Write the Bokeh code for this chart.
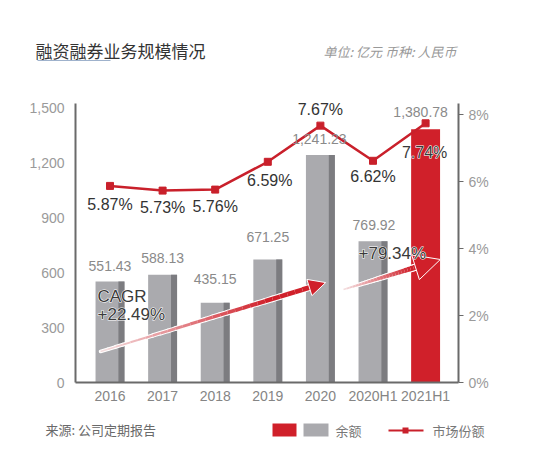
from bokeh.plotting import figure
from bokeh.models import (Range1d, LinearAxis, FixedTicker, NumeralTickFormatter,
                          PrintfTickFormatter, ColumnDataSource, LabelSet, Label,
                          BoxAnnotation, Arrow, NormalHead)
from bokeh.core.properties import value
from bokeh.embed import file_html
from bokeh.resources import INLINE

# ---------------- data ----------------
categories = ["2016", "2017", "2018", "2019", "2020", "2020H1", "2021H1"]
balance = [551.43, 588.13, 435.15, 671.25, 1241.23, 769.92, 1380.78]
balance_labels = ["551.43", "588.13", "435.15", "671.25", "1,241.23", "769.92", "1,380.78"]
share = [5.87, 5.73, 5.76, 6.59, 7.67, 6.62, 7.74]
share_labels = ["5.87%", "5.73%", "5.76%", "6.59%", "7.67%", "6.62%", "7.74%"]
left_ticks = [0, 300, 600, 900, 1200, 1500]
right_ticks = [0, 2, 4, 6, 8]
title_text = "融资融券业务规模情况"
unit_text = "单位: 亿元  币种: 人民币"
source_text = "来源: 公司定期报告"
legend_bar = "余额"
legend_line = "市场份额"
cagr_lines = ["CAGR", "+22.49%"]
growth_text = "+79.34%"
# arrows (start/end in category index, balance units)
cagr_arrow = [(-0.18, 169.0), (4.10, 545.0)]
growth_arrow = [(4.44, 507.0), (6.28, 671.0)]

# ---------------- styling / layout ----------------
RED = "#D0202A"
LINE_RED = "#C9202B"
LIGHT = "#AAAAAE"
DARK = "#7C7C80"
AXIS = "#6A6A6A"
TICKTXT = "#9A9A9A"
NUMFONT = "Liberation Sans"
CJK = "Noto Sans CJK SC"

W, H = 543, 444
# geometry of the plotting area in page pixels
X0PX, XSC = 109.5, 52.6      # centre of first category, px per category
Y0PX, YSC = 382.0, 0.18333   # y of zero, px per balance unit
PSC = 33.49                  # px per percent
FL, FR, FT = 75, 458, 103    # frame left/right/top edges in px

def DX(px):
    return (px - X0PX) / XSC

def DY(py):
    return (Y0PX - py) / YSC

def DP(py):
    return (Y0PX - py) / PSC

p = figure(width=W, height=H, output_backend="svg", toolbar_location=None,
           x_range=Range1d(DX(0), DX(W)), y_range=Range1d(DY(H), DY(0)),
           background_fill_color="white", border_fill_color="white")
p.outline_line_color = None
p.min_border_left = 0
p.min_border_right = 0
p.min_border_top = 0
p.min_border_bottom = 0
p.xgrid.visible = False
p.ygrid.visible = False
p.extra_y_ranges = {"pct": Range1d(DP(H), DP(0))}

idx = list(range(len(categories)))
n = len(categories)

# left axis
ya = p.yaxis[0]
ya.fixed_location = DX(FL)
ya.bounds = (0, DY(FT))
ya.ticker = FixedTicker(ticks=left_ticks)
ya.formatter = NumeralTickFormatter(format="0,0")
ya.major_tick_line_color = None
ya.major_tick_out = 0
ya.major_tick_in = 0
ya.minor_tick_line_color = None
ya.axis_line_color = AXIS
ya.axis_line_width = 2
ya.major_label_text_color = TICKTXT
ya.major_label_text_font = NUMFONT
ya.major_label_text_font_size = "14px"
ya.major_label_standoff = 11

# bottom axis
xa = p.xaxis[0]
xa.fixed_location = 0
xa.bounds = (DX(FL), DX(FR))
xa.ticker = FixedTicker(ticks=idx)
xa.major_label_overrides = {i: c for i, c in enumerate(categories)}
xa.major_tick_line_color = None
xa.major_tick_out = 0
xa.major_tick_in = 0
xa.minor_tick_line_color = None
xa.axis_line_color = AXIS
xa.axis_line_width = 2
xa.major_label_text_color = "#858585"
xa.major_label_text_font = NUMFONT
xa.major_label_text_font_size = "14px"
xa.major_label_standoff = 5

# right axis
ra = LinearAxis(y_range_name="pct", ticker=FixedTicker(ticks=right_ticks),
                formatter=PrintfTickFormatter(format="%d%%"))
ra.fixed_location = DX(FR)
ra.bounds = (0, DP(FT))
ra.major_tick_out = 5
ra.major_tick_in = 0
ra.major_tick_line_color = AXIS
ra.major_tick_line_width = 1
ra.minor_tick_line_color = None
ra.axis_line_color = AXIS
ra.axis_line_width = 2
ra.major_label_text_color = TICKTXT
ra.major_label_text_font = NUMFONT
ra.major_label_text_font_size = "14px"
ra.major_label_standoff = 5
p.add_layout(ra, "right")

# bars
BW = 0.55
STRIP = 0.115
gray_x = idx[:-1]
gray_top = balance[:-1]
p.vbar(x=gray_x, top=gray_top, width=BW, fill_color=LIGHT, line_color=None)
p.quad(left=[x + BW / 2 - STRIP for x in gray_x], right=[x + BW / 2 for x in gray_x],
       top=gray_top, bottom=0, fill_color=DARK, line_color=None)
p.vbar(x=[idx[-1]], top=[balance[-1]], width=BW, fill_color=RED, line_color=None)

# gradient arrows (body)
def lerp_color(c0, c1, t):
    a = [int(c0[i:i + 2], 16) for i in (1, 3, 5)]
    b = [int(c1[i:i + 2], 16) for i in (1, 3, 5)]
    return "#%02x%02x%02x" % tuple(int(round(a[k] + (b[k] - a[k]) * t)) for k in range(3))

def grad_arrow(pts, w0, w1, head, tend=0.93, c0="#F4E0E1"):
    (x0, y0), (x1, y1) = pts
    N = 28
    xs0, ys0, xs1, ys1, cols, ws = [], [], [], [], [], []
    for i in range(N):
        t0 = tend * i / N
        t1 = tend * (i + 1) / N
        xs0.append(x0 + (x1 - x0) * t0)
        ys0.append(y0 + (y1 - y0) * t0)
        xs1.append(x0 + (x1 - x0) * t1)
        ys1.append(y0 + (y1 - y0) * t1)
        tt = (i + 0.5) / N
        cols.append(lerp_color(c0, RED, min(1.0, tt * 1.25)))
        ws.append(w0 + (w1 - w0) * tt)
    src = ColumnDataSource(dict(x0=xs0, y0=ys0, x1=xs1, y1=ys1, c=cols, w=ws,
                                ww=[w + 2 for w in ws]))
    p.segment(x0="x0", y0="y0", x1="x1", y1="y1", source=src, line_color="white",
              line_width="ww", line_cap="round")
    p.segment(x0="x0", y0="y0", x1="x1", y1="y1", source=src, line_color="c",
              line_width="w", line_cap="butt")
    p.add_layout(Arrow(end=NormalHead(size=head, fill_color=RED, line_color="white",
                                      line_width=1),
                       x_start=x0 + (x1 - x0) * 0.8, y_start=y0 + (y1 - y0) * 0.8,
                       x_end=x1, y_end=y1, line_alpha=0))

grad_arrow(cagr_arrow, 1.5, 5.0, 17)
grad_arrow(growth_arrow, 1.5, 6.0, 26, tend=0.88)

# share line
p.line(x=idx, y=share, y_range_name="pct", line_color=LINE_RED, line_width=2.5)
p.scatter(x=idx, y=share, y_range_name="pct", marker="square", size=7,
          fill_color=LINE_RED, line_color=LINE_RED)

# value labels
val_dy = [15, 17, 24, 22, 16, 16, 17]
val_dx = [0, 0, 0, 0, -1, 1, -5]
vsrc = ColumnDataSource(dict(x=idx, y=balance, t=balance_labels, dx=val_dx, dy=val_dy))
p.add_layout(LabelSet(x="x", y="y", text="t", source=vsrc, x_offset="dx", y_offset="dy",
                      text_align="center", text_baseline="middle",
                      text_font=value(NUMFONT), text_font_size="14px",
                      text_color="#8A8A8A"))

# share labels
sh_dy = [-19, -17, -17, -19, 16, -16, -29]
sh_dx = [0, 0, 0, 2, 0, 0, -1]
plain = [i for i in idx if i != n - 1]
ssrc = ColumnDataSource(dict(x=[idx[i] for i in plain], y=[share[i] for i in plain],
                             t=[share_labels[i] for i in plain],
                             dx=[sh_dx[i] for i in plain], dy=[sh_dy[i] for i in plain]))
p.add_layout(LabelSet(x="x", y="y", text="t", source=ssrc, x_offset="dx", y_offset="dy",
                      y_range_name="pct", text_align="center", text_baseline="middle",
                      text_font=value(NUMFONT), text_font_size="16px",
                      text_color="#333333"))

def halo_label(**kw):
    # white halo underneath, dark text on top
    p.add_layout(Label(text_color="white", text_outline_color="white", **kw))
    p.add_layout(Label(text_color="#3A3A3A", **kw))

halo_label(x=idx[-1], y=share[-1], y_range_name="pct", text=share_labels[-1],
           x_offset=sh_dx[-1], y_offset=sh_dy[-1], text_align="center",
           text_baseline="middle", text_font=NUMFONT, text_font_size="16px")

# CAGR / growth texts
halo_label(x=DX(97), y=DY(296), text=cagr_lines[0], text_align="left",
           text_baseline="middle", text_font=NUMFONT, text_font_size="17px")
halo_label(x=DX(97), y=DY(314), text=cagr_lines[1], text_align="left",
           text_baseline="middle", text_font=NUMFONT, text_font_size="17px")
halo_label(x=DX(358), y=DY(253), text=growth_text, text_align="left",
           text_baseline="middle", text_font=NUMFONT, text_font_size="17px")

# title, units, source
p.add_layout(Label(x=DX(35), y=DY(50), text=title_text, text_align="left",
                   text_baseline="middle", text_font=CJK, text_font_size="17px",
                   text_color="#333333"))
p.add_layout(Arrow(end=None, x_start=DX(37), y_start=DY(60), x_end=DX(110), y_end=DY(60),
                   line_color="#9FB2CC", line_width=1))
p.add_layout(Label(x=DX(323), y=DY(51), text=unit_text, text_align="left",
                   text_baseline="middle", text_font=CJK, text_font_size="13px",
                   text_font_style="italic", text_color="#999999"))
p.add_layout(Label(x=DX(45), y=DY(429), text=source_text, text_align="left",
                   text_baseline="middle", text_font=CJK, text_font_size="13px",
                   text_color="#6A6A6A"))

# legend (drawn manually)
p.add_layout(BoxAnnotation(left=DX(272), right=DX(296), top=DY(423), bottom=DY(436),
                           fill_color=RED, fill_alpha=1, line_color=None))
p.add_layout(BoxAnnotation(left=DX(303), right=DX(328), top=DY(423), bottom=DY(436),
                           fill_color=LIGHT, fill_alpha=1, line_color=None))
p.add_layout(Label(x=DX(335), y=DY(430), text=legend_bar, text_align="left",
                   text_baseline="middle", text_font=CJK, text_font_size="13px",
                   text_color="#777777"))
p.add_layout(Arrow(end=None, x_start=DX(388), y_start=DY(430), x_end=DX(423),
                   y_end=DY(430), line_color=LINE_RED, line_width=2))
p.add_layout(BoxAnnotation(left=DX(402), right=DX(408), top=DY(427), bottom=DY(433),
                           fill_color=LINE_RED, fill_alpha=1, line_color=None))
p.add_layout(Label(x=DX(432), y=DY(430), text=legend_line, text_align="left",
                   text_baseline="middle", text_font=CJK, text_font_size="13px",
                   text_color="#777777"))

open("out.html", "w").write(file_html(p, INLINE))
